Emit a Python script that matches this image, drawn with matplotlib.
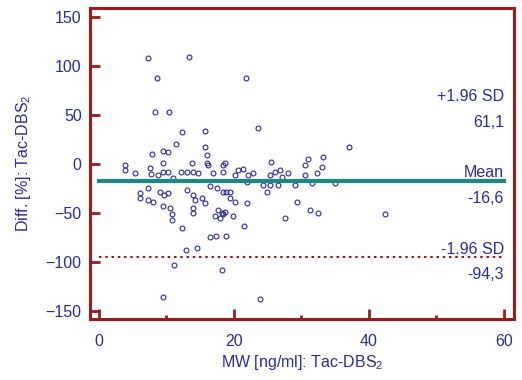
import matplotlib
matplotlib.use("Agg")
import matplotlib.pyplot as plt
from matplotlib.ticker import MultipleLocator

# =================================
# DATA
# =================================

mw = [7.3, 13.3, 8.6, 21.8, 8.3, 10.4, 12.3, 15.7, 23.6, 11.4,
      7.9, 9.5, 10.2, 9.5, 15.7, 16.0, 16.0, 3.9, 3.9, 5.3,
      7.6, 7.7, 8.7, 9.5, 10.2, 11.0, 12.2, 13.0, 13.8, 13.9,
      14.7, 16.2, 16.9, 18.4, 7.3, 6.1, 6.1, 7.3, 8.0, 9.0,
      9.6, 10.2, 9.5, 10.5, 10.8, 10.8, 13.0, 13.9, 14.2, 15.3,
      15.7, 13.9, 13.9, 16.4, 17.5, 18.4, 19.4, 17.6, 18.2, 17.2,
      17.9, 18.7, 12.3, 16.4, 17.3, 18.8, 12.9, 14.5, 11.1, 18.2,
      9.5, 23.9, 18.7, 18.4, 20.6, 21.3, 20.2, 22.1, 22.8, 21.9,
      25.5, 25.3, 26.1, 26.8, 28.0, 27.1, 25.3, 24.3, 24.9, 26.5,
      29.0, 30.5, 31.0, 30.5, 31.6, 32.3, 33.2, 33.0, 35.0, 37.0,
      18.8, 19.4, 20.2, 21.9, 18.4, 19.9, 21.5, 27.6, 29.3, 31.3,
      32.4, 42.4]

diff = [108.7, 109.7, 88.3, 88.3, 53.6, 53.6, 33.2, 34.2, 37.2, 20.9,
        10.7, 13.8, 12.8, 1.5, 17.9, 9.7, 1.5, -0.5, -5.6, -8.7,
        -3.6, -9.7, -10.7, -7.7, -7.7, -13.8, -7.7, -7.7, 1.5, -7.7,
        -8.7, -0.5, -8.7, -0.5, -24.0, -29.1, -34.2, -36.2, -38.3, -28.1,
        -31.1, -29.1, -42.3, -44.4, -50.5, -56.6, -26.0, -31.1, -36.2, -34.2,
        -39.3, -44.4, -49.5, -21.9, -24.0, -28.1, -28.1, -46.4, -49.5, -52.6,
        -54.6, -48.5, -64.8, -74.0, -73.0, -73.0, -87.2, -85.2, -102.6, -107.7,
        -135.2, -137.2, 1.5, -7.7, -5.6, -4.6, -10.7, -10.7, -8.7, -17.9,
        2.6, -10.7, -7.7, -5.6, -8.7, -12.8, -20.9, -20.9, -28.1, -20.9,
        -20.9, -0.5, 5.6, -10.7, -18.9, -8.7, 7.7, -2.6, -18.9, 17.9,
        -28.1, -34.2, -38.3, -39.3, -50.5, -52.6, -62.8, -54.6, -38.3, -46.4,
        -49.5, -50.5]

mean_diff = -16.6
upper_sd = 61.1
lower_sd = -94.3

# =================================
# STYLE
# =================================

plt.rcParams["font.family"] = ["Liberation Sans", "DejaVu Sans"]
plt.rcParams["mathtext.fontset"] = "custom"
plt.rcParams["mathtext.rm"] = "Liberation Sans"
plt.rcParams["mathtext.it"] = "Liberation Sans"

blue = "#2b2b9e"
red = "#9b1c1c"
teal = "#1a8a82"

fig = plt.figure(figsize=(5.22, 3.80), dpi=100)
ax = fig.add_axes([0.1724, 0.1605, 0.8123, 0.8185])

# =================================
# PLOT
# =================================

ax.plot(mw, diff, linestyle="none", marker="o", markersize=3.5,
        markerfacecolor="none", markeredgecolor=blue, markeredgewidth=0.8,
        zorder=2)

ax.plot([0, 60], [mean_diff, mean_diff], color=teal, linewidth=3, zorder=3)
ax.plot([0, 60], [lower_sd, lower_sd], color=red, linewidth=1.5,
        linestyle=(0, (1.2, 1.8)), zorder=3)

# labels for the lines
fs = 11.5
ax.text(60, upper_sd + 8, "+1.96 SD", ha="right", va="center", color=blue, fontsize=fs)
ax.text(60, upper_sd - 18, "61,1", ha="right", va="center", color=blue, fontsize=fs)
ax.text(60, mean_diff + 8, "Mean", ha="right", va="center", color=blue, fontsize=fs)
ax.text(60, mean_diff - 18, "-16,6", ha="right", va="center", color=blue, fontsize=fs)
ax.text(60, lower_sd + 8, "-1.96 SD", ha="right", va="center", color=blue, fontsize=fs)
ax.text(60, lower_sd - 18, "-94,3", ha="right", va="center", color=blue, fontsize=fs)

# =================================
# AXES
# =================================

ax.set_xlim(-1.33, 61.5)
ax.set_ylim(-157.7, 159.7)
ax.xaxis.set_major_locator(MultipleLocator(20))
ax.xaxis.set_minor_locator(MultipleLocator(10))
ax.yaxis.set_major_locator(MultipleLocator(50))

for side in ["left", "bottom", "top", "right"]:
    ax.spines[side].set_color(red)
    ax.spines[side].set_linewidth(2.2)

ax.tick_params(axis="both", which="major", direction="in", length=7, width=2,
               color=red, labelcolor=blue, labelsize=fs, pad=6)
ax.tick_params(axis="x", which="major", pad=11)
ax.tick_params(axis="x", which="minor", direction="in", length=3, width=2, color=red)
ax.tick_params(top=False, right=False)

ax.set_xlabel("MW [ng/ml]: Tac-DBS$_2$", color=blue, fontsize=fs, labelpad=3)
ax.set_ylabel("Diff. [%]: Tac-DBS$_2$", color=blue, fontsize=fs, labelpad=9)

plt.savefig("out.png", dpi=100)
